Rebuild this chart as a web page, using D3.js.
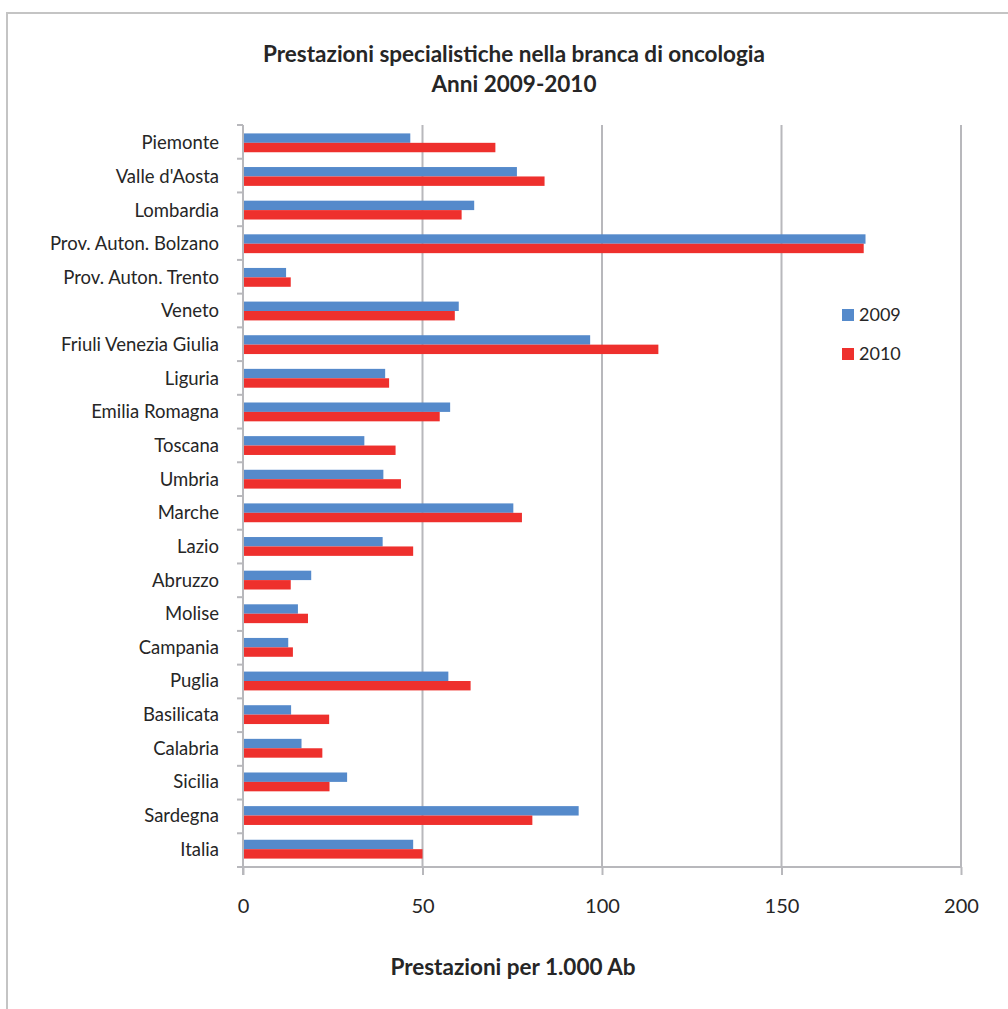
<!DOCTYPE html>
<html>
<head>
<meta charset="utf-8">
<script src="https://cdn.jsdelivr.net/npm/d3@7"></script>
<style>
  html, body { margin: 0; padding: 0; background: #fff; }
  svg { display: block; font-family: Lato, "Open Sans", sans-serif; }
</style>
</head>
<body>
<svg id="chart" width="1008" height="1009"></svg>
<script>
const categories = ["Piemonte", "Valle d'Aosta", "Lombardia", "Prov. Auton. Bolzano", "Prov. Auton. Trento",
  "Veneto", "Friuli Venezia Giulia", "Liguria", "Emilia Romagna", "Toscana", "Umbria", "Marche", "Lazio",
  "Abruzzo", "Molise", "Campania", "Puglia", "Basilicata", "Calabria", "Sicilia", "Sardegna", "Italia"];
const values2009 = [46.6, 76.3, 64.4, 173.4, 12.0, 60.1, 96.7, 39.6, 57.7, 33.8, 39.1, 75.3, 38.9,
  19.0, 15.3, 12.6, 57.2, 13.4, 16.3, 29.0, 93.5, 47.4];
const values2010 = [70.3, 84.0, 60.9, 172.9, 13.3, 59.0, 115.7, 40.7, 54.8, 42.5, 44.0, 77.7, 47.4,
  13.3, 18.1, 13.9, 63.4, 24.0, 22.1, 24.1, 80.6, 50.0];
const seriesNames = ["2009", "2010"];
const xTicks = [0, 50, 100, 150, 200];
const titleLines = ["Prestazioni specialistiche nella branca di oncologia", "Anni 2009-2010"];
const xAxisTitle = "Prestazioni per 1.000 Ab";

const colors = ["#558ACB", "#EE302D"];
const gridColor = "#B8B8BC";
const svg = d3.select("#chart");

// outer border
svg.append("path")
  .attr("d", "M7,1009 V13 H1008")
  .attr("fill", "none").attr("stroke", "#C4C4C4").attr("stroke-width", 2);

const pLeft = 243, pRight = 961, pTop = 125, pBottom = 867;
const x = d3.scaleLinear().domain([0, 200]).range([pLeft, pRight]);
const y = d3.scaleBand().domain(categories).range([pTop, pBottom]).paddingInner(0.44).paddingOuter(0.25);
const ySub = d3.scaleBand().domain(seriesNames).range([0, y.bandwidth()]);
const step = (pBottom - pTop) / categories.length;

// gridlines
svg.append("g").selectAll("line").data(xTicks.filter(d => d > 0)).join("line")
  .attr("x1", d => x(d)).attr("x2", d => x(d))
  .attr("y1", pTop).attr("y2", pBottom)
  .attr("stroke", gridColor).attr("stroke-width", 2);

// bars
const data = categories.map((c, i) => ({ c, v: [values2009[i], values2010[i]] }));
const g = svg.append("g");
data.forEach(d => {
  seriesNames.forEach((s, j) => {
    g.append("rect")
      .attr("x", x(0))
      .attr("y", y(d.c) + ySub(s))
      .attr("width", x(d.v[j]) - x(0))
      .attr("height", ySub.bandwidth())
      .attr("fill", colors[j]);
  });
});

// left axis line + ticks at band boundaries
svg.append("line").attr("x1", pLeft).attr("x2", pLeft).attr("y1", pTop).attr("y2", pBottom + 8)
  .attr("stroke", gridColor).attr("stroke-width", 2);
svg.append("g").selectAll("line").data(d3.range(categories.length + 1)).join("line")
  .attr("x1", pLeft - 6).attr("x2", pLeft)
  .attr("y1", i => pTop + i * step).attr("y2", i => pTop + i * step)
  .attr("stroke", gridColor).attr("stroke-width", 2);

// category labels
svg.append("g").selectAll("text").data(categories).join("text")
  .attr("x", 219).attr("y", d => y(d) + y.bandwidth() / 2)
  .attr("dy", "0.35em").attr("text-anchor", "end")
  .attr("font-size", 18.5).attr("fill", "#262626")
  .text(d => d);

// bottom axis
const xAxis = d3.axisBottom(x).tickValues(xTicks).tickSize(8).tickPadding(24).tickFormat(d3.format("d"));
const ax = svg.append("g").attr("transform", `translate(0,${pBottom})`).call(xAxis);
ax.select(".domain").attr("stroke", gridColor).attr("stroke-width", 2).attr("d", `M${pLeft},0H${pRight}`);
ax.selectAll(".tick line").attr("stroke", gridColor).attr("stroke-width", 2);
ax.selectAll(".tick text").attr("font-size", 20).attr("fill", "#262626")
  .attr("font-family", "Lato, 'Open Sans', sans-serif");

// titles
svg.append("g").selectAll("text").data(titleLines).join("text")
  .attr("x", 514).attr("y", (d, i) => 62 + i * 30)
  .attr("text-anchor", "middle").attr("font-weight", "bold")
  .attr("font-size", 22.5).attr("fill", "#262626")
  .text(d => d);

svg.append("text").attr("x", 513).attr("y", 975).attr("text-anchor", "middle")
  .attr("font-weight", "bold").attr("font-size", 22.5).attr("fill", "#262626")
  .text(xAxisTitle);

// legend
const leg = svg.append("g").selectAll("g").data(seriesNames).join("g")
  .attr("transform", (d, i) => `translate(842,${309 + i * 39})`);
leg.append("rect").attr("width", 12).attr("height", 12).attr("fill", (d, i) => colors[i]);
leg.append("text").attr("x", 17).attr("y", 6).attr("dy", "0.36em")
  .attr("font-size", 18).attr("fill", "#262626").text(d => d);
</script>
</body>
</html>
